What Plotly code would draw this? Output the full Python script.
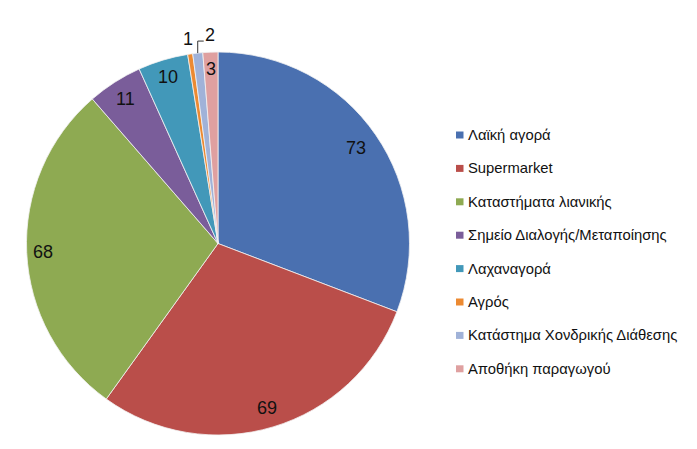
import numpy as np
import plotly.graph_objects as go

# data
labels = ["Λαϊκή αγορά", "Supermarket", "Καταστήματα λιανικής",
          "Σημείο Διαλογής/Μεταποίησης", "Λαχαναγορά", "Αγρός",
          "Κατάστημα Χονδρικής Διάθεσης", "Αποθήκη παραγωγού"]
values = [73, 69, 68, 11, 10, 1, 2, 3]
colors = ["#4a70b0", "#ba4e4a", "#8eaa52", "#7a5d9a", "#4298b9",
          "#ec8a32", "#a0b2d8", "#dfa0a0"]

# page puts the figure at (8, 8), so size and positions account for that
OFF = 8
W, H = 697 - OFF, 449 - OFF
cx, cy, R = 218 - OFF, 243.5 - OFF, 191.5  # pie centre / radius in px

fig = go.Figure()
fig.add_trace(go.Pie(
    labels=labels, values=values, sort=False, direction="clockwise",
    marker=dict(colors=colors, line=dict(color="#f2f2f2", width=0.8)),
    textinfo="none", hoverinfo="label+value", showlegend=False,
    domain=dict(x=[(cx - R) / W, (cx + R) / W],
                y=[1 - (cy + R) / H, 1 - (cy - R) / H]),
))

# value labels near the rim (mid angle of each slice)
total = sum(values)
cum = np.cumsum([0] + values[:-1])
mids = 90 - 360 * (cum + np.array(values) / 2) / total
radii = [168, 172, 175, 172, 174, 207, None, 175]

def to_paper(px, py):
    return px / W, 1 - py / H

for v, ang, r in zip(values, mids, radii):
    t = np.radians(ang)
    if r is None:
        # leader line label
        rx, ry = cx + R * np.cos(t), cy - R * np.sin(t)
        x0, y0 = to_paper(rx, ry)
        x1, y1 = to_paper(rx, ry - 12)
        x2, y2 = to_paper(rx + 6, ry - 12)
        fig.add_shape(type="path", xref="paper", yref="paper",
                      path=f"M {x0} {y0} L {x1} {y1} L {x2} {y2}",
                      line=dict(color="#333333", width=1))
        tx, ty = to_paper(rx + 12, ry - 18)
    else:
        tx, ty = to_paper(cx + r * np.cos(t), cy - r * np.sin(t))
    fig.add_annotation(x=tx, y=ty, xref="paper", yref="paper", text=str(v),
                       showarrow=False, xanchor="center", yanchor="middle",
                       font=dict(size=18, color="#111111"))

# legend
for i, (lab, col) in enumerate(zip(labels, colors)):
    yc = 135 - OFF + i * 33.4
    x0, y0 = to_paper(456 - OFF, yc - 3.5)
    x1, y1 = to_paper(463.5 - OFF, yc + 3.5)
    fig.add_shape(type="rect", xref="paper", yref="paper",
                  x0=x0, x1=x1, y0=y0, y1=y1,
                  fillcolor=col, line=dict(width=0))
    tx, ty = to_paper(466 - OFF, yc)
    fig.add_annotation(x=tx, y=ty, xref="paper", yref="paper", text=lab,
                       showarrow=False, xanchor="left", yanchor="middle",
                       font=dict(size=14.8, color="#111111"))

fig.update_layout(
    width=W, height=H, margin=dict(l=0, r=0, t=0, b=0),
    paper_bgcolor="white", plot_bgcolor="white",
    font=dict(family="Liberation Sans, Arial, sans-serif"),
)
fig.write_html("out.html")
